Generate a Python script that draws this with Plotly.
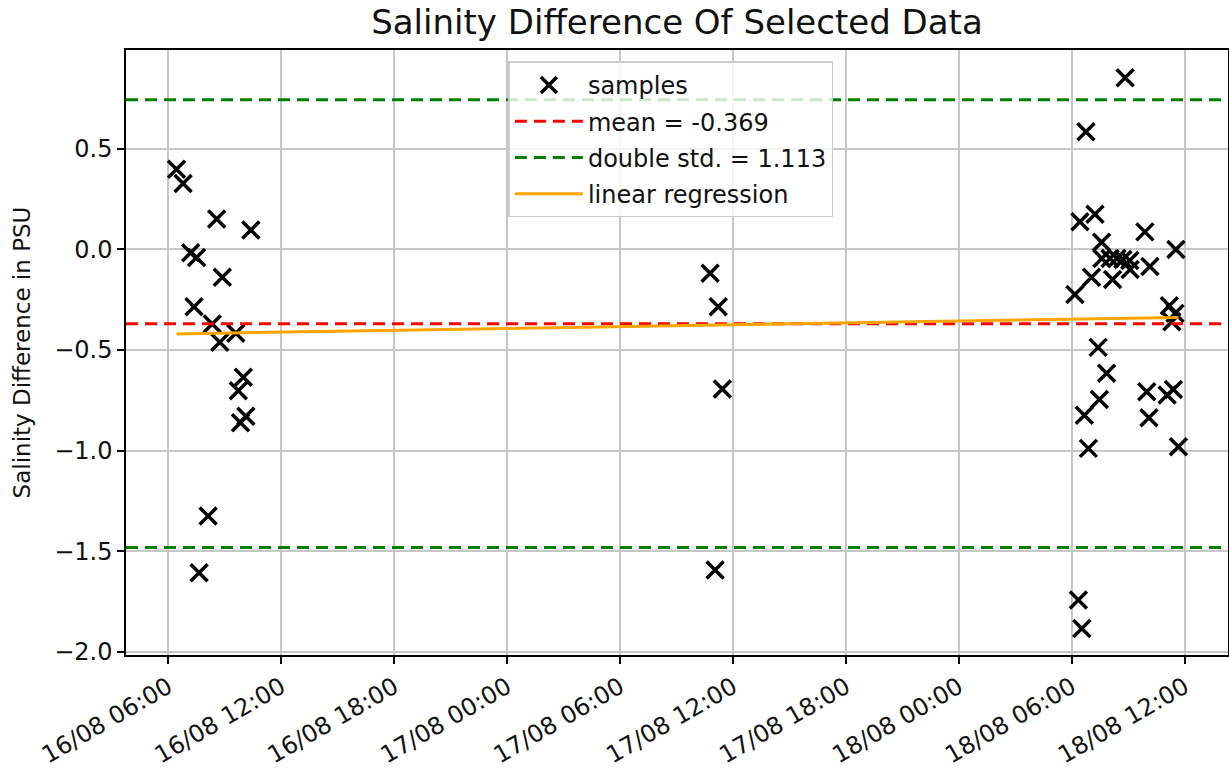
import plotly.graph_objects as go
import pandas as pd

# ---- data ----
SAMPLE_TIMES = [
    # 16/08
    "2023-08-16 06:26", "2023-08-16 06:47", "2023-08-16 08:34", "2023-08-16 10:23",
    "2023-08-16 07:11", "2023-08-16 07:30", "2023-08-16 08:52", "2023-08-16 07:22",
    "2023-08-16 08:20", "2023-08-16 09:35", "2023-08-16 08:44", "2023-08-16 09:59",
    "2023-08-16 09:43", "2023-08-16 10:07", "2023-08-16 09:50", "2023-08-16 08:07",
    "2023-08-16 07:38",
    # 17/08
    "2023-08-17 10:47", "2023-08-17 11:13", "2023-08-17 11:26", "2023-08-17 11:03",
    # 18/08
    "2023-08-18 08:50", "2023-08-18 06:45", "2023-08-18 06:26", "2023-08-18 07:14",
    "2023-08-18 09:53", "2023-08-18 07:35", "2023-08-18 11:32", "2023-08-18 07:36",
    "2023-08-18 08:02", "2023-08-18 08:24", "2023-08-18 08:43", "2023-08-18 09:05",
    "2023-08-18 09:06", "2023-08-18 10:09", "2023-08-18 07:03", "2023-08-18 08:10",
    "2023-08-18 06:10", "2023-08-18 11:11", "2023-08-18 11:29", "2023-08-18 11:19",
    "2023-08-18 07:24", "2023-08-18 07:51", "2023-08-18 07:28", "2023-08-18 06:40",
    "2023-08-18 09:59", "2023-08-18 11:24", "2023-08-18 11:04", "2023-08-18 10:06",
    "2023-08-18 06:53", "2023-08-18 11:40", "2023-08-18 06:21", "2023-08-18 06:32",
]
SAMPLE_VALUES = [
    0.398, 0.328, 0.151, 0.096, -0.017, -0.040, -0.139, -0.285,
    -0.371, -0.417, -0.462, -0.636, -0.703, -0.829, -0.862, -1.325,
    -1.607,
    -0.119, -0.285, -0.694, -1.594,
    0.853, 0.585, 0.137, 0.175, 0.087, 0.035, 0.000, -0.045,
    -0.045, -0.045, -0.050, -0.055, -0.100, -0.085, -0.139, -0.150,
    -0.224, -0.280, -0.318, -0.360, -0.487, -0.616, -0.746, -0.824,
    -0.708, -0.696, -0.724, -0.837, -0.989, -0.981, -1.743, -1.884,
]
MEAN = -0.369
DOUBLE_STD = 1.113
REG_VALUES = [-0.420, -0.338]          # regression at first / last sample time

X_RANGE = ["2023-08-16 03:45", "2023-08-18 14:18"]
Y_RANGE = [-2.016, 0.991]
Y_TICKS = [-2.0, -1.5, -1.0, -0.5, 0.0, 0.5]

FONT = "DejaVu Sans"

times = pd.to_datetime(SAMPLE_TIMES)
reg_times = [times.min(), times.max()]

fig = go.Figure()

fig.add_trace(go.Scatter(
    x=times, y=SAMPLE_VALUES, mode="markers", name="samples",
    legendgroup="a",
    marker=dict(symbol="x-thin", size=17, color="black",
                line=dict(color="black", width=3.5)),
))
fig.add_trace(go.Scatter(
    x=X_RANGE, y=[MEAN, MEAN], mode="lines",
    name=f"mean = {MEAN:.3f}", legendgroup="b",
    line=dict(color="#ff0000", width=3, dash="12px,7px"),
))
fig.add_trace(go.Scatter(
    x=[X_RANGE[0], X_RANGE[1], None, X_RANGE[0], X_RANGE[1]],
    y=[MEAN + DOUBLE_STD, MEAN + DOUBLE_STD, None, MEAN - DOUBLE_STD, MEAN - DOUBLE_STD],
    mode="lines", name=f"double std. = {DOUBLE_STD:.3f}", legendgroup="c",
    line=dict(color="#008000", width=3, dash="12px,7px"),
))
fig.add_trace(go.Scatter(
    x=reg_times, y=REG_VALUES, mode="lines", name="linear regression",
    legendgroup="d",
    line=dict(color="#ffa500", width=3),
))

axis_common = dict(
    showline=True, linecolor="black", linewidth=1.5, mirror=True,
    showgrid=True, gridcolor="#c6c6c6", gridwidth=1.6,
    ticks="outside", ticklen=7, tickwidth=1.5, tickcolor="black",
    zeroline=False,
)

fig.update_layout(
    width=1229, height=771,
    margin=dict(l=126, r=1, t=50, b=116, autoexpand=False),
    paper_bgcolor="white", plot_bgcolor="white",
    font=dict(family=FONT, color="#111111"),
    title=dict(text="Salinity Difference Of Selected Data",
               x=(126 + 1228) / 2 / 1229, xanchor="center",
               y=1 - 22 / 771, yanchor="middle",
               font=dict(family=FONT, size=34, color="#111111")),
    showlegend=True,
    legend=dict(
        x=0.347, y=0.981, xanchor="left", yanchor="top",
        bgcolor="rgba(255,255,255,0.8)", bordercolor="#cccccc", borderwidth=1.5,
        font=dict(family=FONT, size=24, color="#111111"),
        traceorder="grouped", tracegroupgap=2, itemwidth=68,
    ),
)

fig.update_xaxes(
    **axis_common,
    type="date", range=X_RANGE,
    tick0="2023-08-16 00:00", dtick=6 * 3600 * 1000,
    tickformat="%d/%m %H:%M", tickangle=-30,
    tickfont=dict(family=FONT, size=24, color="#111111"),
)
fig.update_yaxes(
    **axis_common,
    range=Y_RANGE, tickvals=Y_TICKS, tickformat=".1f",
    tickfont=dict(family=FONT, size=24, color="#111111"),
    title=dict(text="Salinity Difference in PSU",
               font=dict(family=FONT, size=23, color="#111111"), standoff=17),
)

fig.write_html("out.html")
